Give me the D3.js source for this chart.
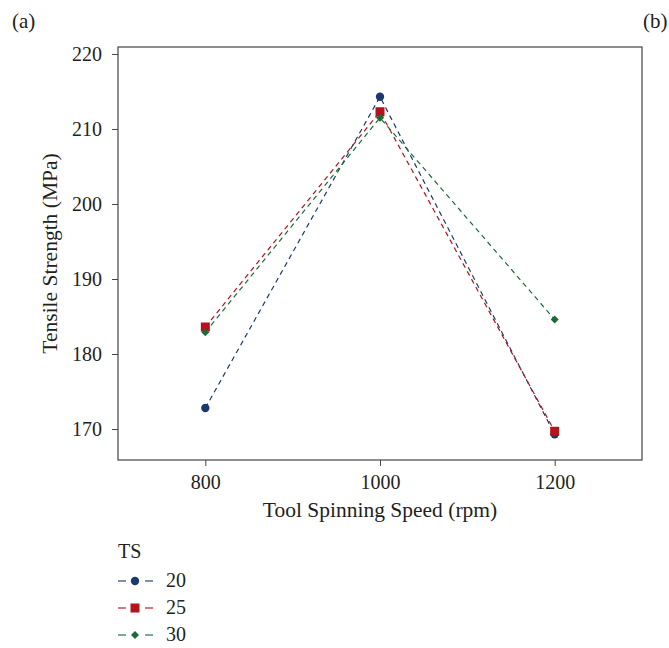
<!DOCTYPE html>
<html><head><meta charset="utf-8">
<script src="https://cdn.jsdelivr.net/npm/d3@7"></script>
<style>body{margin:0;background:#fff}svg{display:block}text{font-family:"Liberation Serif","DejaVu Serif",serif;fill:#231f20}</style>
</head><body>
<svg id="c" width="669" height="648"></svg>
<script>
const speeds = [800, 1000, 1200];
const seriesNames = ["20", "25", "30"];
const ts20 = [172.8, 214.3, 169.3];
const ts25 = [183.6, 212.3, 169.7];
const ts30 = [182.9, 211.5, 184.6];
const xTicks = [800, 1000, 1200];
const yTicks = [170, 180, 190, 200, 210, 220];
const colors = ["#1b3a6b", "#b3121e", "#1d6a36"];
const symbols = [d3.symbolCircle, d3.symbolSquare, d3.symbolSquare];
const sizes = [55, 81, 32];
const rotations = [0, 0, 45];

const svg = d3.select("#c");
const L = 118, R = 642, T = 47, B = 460;
const x = d3.scaleLinear().domain([700, 1300]).range([L, R]);
const y = d3.scaleLinear().domain([165.87, 220.93]).range([B, T]);
const FONT = '"Liberation Serif","DejaVu Serif",serif';

svg.append("rect").attr("x", L).attr("y", T).attr("width", R - L).attr("height", B - T)
  .attr("fill", "none").attr("stroke", "#444").attr("stroke-width", 1.2);

const yAxis = svg.append("g").attr("transform", `translate(${L},0)`)
  .call(d3.axisLeft(y).tickValues(yTicks).tickSize(6).tickPadding(10));
const xAxis = svg.append("g").attr("transform", `translate(0,${B})`)
  .call(d3.axisBottom(x).tickValues(xTicks).tickSize(6).tickPadding(9).tickFormat(d3.format("d")));
[yAxis, xAxis].forEach(g => {
  g.select(".domain").remove();
  g.selectAll("line").attr("stroke", "#444");
  g.selectAll("text").style("font-size", "20px").attr("fill", "#231f20").style("font-family", FONT);
});

const data = [ts20, ts25, ts30];
const line = d3.line().x((d, i) => x(speeds[i])).y(d => y(d));
data.forEach((vals, k) => {
  svg.append("path").datum(vals).attr("d", line).attr("fill", "none")
    .attr("stroke", colors[k]).attr("stroke-width", 1.2).attr("stroke-dasharray", "5,4");
});
data.forEach((vals, k) => {
  svg.selectAll(null).data(vals).enter().append("path")
    .attr("d", d3.symbol().type(symbols[k]).size(sizes[k]))
    .attr("transform", (d, i) => `translate(${x(speeds[i])},${y(d)}) rotate(${rotations[k]})`)
    .attr("fill", colors[k]);
});

svg.append("text").attr("transform", `translate(57,${(T + B) / 2}) rotate(-90)`)
  .attr("text-anchor", "middle").style("font-size", "21.5px").text("Tensile Strength (MPa)");
svg.append("text").attr("x", 380).attr("y", 517)
  .attr("text-anchor", "middle").style("font-size", "21.5px").text("Tool Spinning Speed (rpm)");

svg.append("text").attr("x", 12).attr("y", 28).style("font-size", "21px").text("(a)");
svg.append("text").attr("x", 643).attr("y", 28).style("font-size", "21px").text("(b)");

svg.append("text").attr("x", 118).attr("y", 558).style("font-size", "20px").text("TS");
seriesNames.forEach((n, k) => {
  const cy = 581 + k * 27;
  svg.append("line").attr("x1", 118).attr("x2", 153).attr("y1", cy).attr("y2", cy)
    .attr("stroke", colors[k]).attr("stroke-width", 1.3).attr("stroke-dasharray", "8,19").attr("opacity", 0.75);
  svg.append("path").attr("d", d3.symbol().type(symbols[k]).size(sizes[k]))
    .attr("transform", `translate(135,${cy}) rotate(${rotations[k]})`).attr("fill", colors[k]);
  svg.append("text").attr("x", 166).attr("y", cy + 6).style("font-size", "20px").text(n);
});
</script>
</body></html>
